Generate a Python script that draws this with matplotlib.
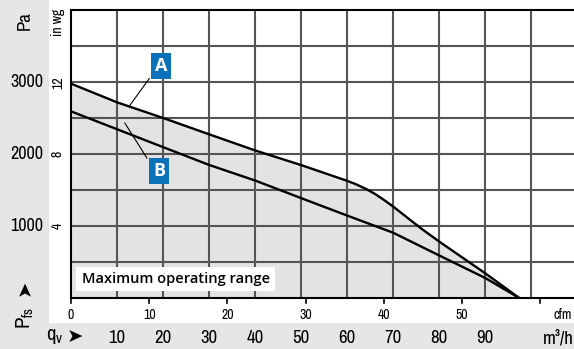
import matplotlib
matplotlib.use("Agg")
import matplotlib.pyplot as plt
from matplotlib.patches import Rectangle
import matplotlib.transforms as mtransforms

# Fan characteristic curves: flow in m³/h, static pressure in Pa
flow_a = [0, 10, 20, 30, 40, 50, 60, 62, 64, 66, 68, 70, 76, 80, 90, 97.4]
pa_a = [2972, 2713, 2496, 2270, 2046, 1843, 1625, 1575, 1515, 1445, 1360, 1268, 968, 783, 343, 0]

flow_b = [0, 10, 20, 30, 40, 50, 60, 70, 80, 90, 97.4]
pa_b = [2588, 2340, 2092, 1845, 1629, 1385, 1143, 905, 590, 278, 0]

pa_ticks = [1000, 2000, 3000]
inwg_ticks = [4, 8, 12]
m3h_ticks = [10, 20, 30, 40, 50, 60, 70, 80, 90]
cfm_ticks = [0, 10, 20, 30, 40, 50, 60]
cfm_labels = ["0", "10", "20", "30", "40", "50", ""]

PA_PER_INWG = 249.089
M3H_PER_CFM = 1.699

NARROW = ["Archivo Narrow", "DejaVu Sans"]
BAND = "#e6e6e6"
FILL = "#e3e3e3"
GRID = "#555555"
BLUE = "#0b72b9"

fig = plt.figure(figsize=(5.74, 3.49), dpi=100)
W, H = 574, 349

# Grey label bands (left and bottom), kept behind the axes
fig.patches.append(Rectangle((0, 0), 49 / W, 1, transform=fig.transFigure,
                             facecolor=BAND, edgecolor="none", zorder=-5))
fig.patches.append(Rectangle((0, 0), 1, 26 / H, transform=fig.transFigure,
                             facecolor=BAND, edgecolor="none", zorder=-5))

x0, x1 = 71 / W, 1.0
y0, y1 = 1 - 298 / H, 1 - 9.5 / H
ax = fig.add_axes([x0, y0, x1 - x0, y1 - y0])
ax.set_facecolor("white")
ax.set_xlim(0, 109.3)
ax.set_ylim(0, 4000)

# Grid
for v in range(10, 110, 10):
    ax.axvline(v, color=GRID, lw=1.5, zorder=1)
for p in range(500, 4000, 500):
    ax.axhline(p, color=GRID, lw=1.5, zorder=1)

# Operating range shading under the upper curve
ax.fill_between(flow_a, pa_a, 0, color=FILL, zorder=0.5, lw=0)

ax.plot(flow_a, pa_a, color="black", lw=1.7, zorder=3, solid_joinstyle="round")
ax.plot(flow_b, pa_b, color="black", lw=1.7, zorder=3, solid_joinstyle="round")

# Spines
ax.spines["right"].set_visible(False)
for s in ["left", "bottom", "top"]:
    ax.spines[s].set_color("black")
    ax.spines[s].set_linewidth(1.5)
ax.set_xticks([])
ax.set_yticks([])

# Curve labels with leader lines
ax.plot([17.0, 12.8], [3042, 2671], color="black", lw=0.8, zorder=4)
ax.plot([16.5, 11.7], [1940, 2426], color="black", lw=0.8, zorder=4)
for txt, (cx, cy) in [("A", (19.6, 3218)), ("B", (19.2, 1767))]:
    ax.text(cx, cy, txt, ha="center", va="center", color="white",
            fontsize=13, fontweight="bold", family="Open Sans", zorder=5,
            bbox=dict(boxstyle="square,pad=0.22", facecolor=BLUE, edgecolor="none"))

# Caption box
ax.text(2.3, 262, "Maximum operating range", ha="left", va="center",
        fontsize=10.5, fontweight="semibold", family="Open Sans", zorder=5,
        bbox=dict(boxstyle="square,pad=0.35", facecolor="white", edgecolor="none"))

# cfm scale along the bottom edge
for c, lab in zip(cfm_ticks, cfm_labels):
    q = c * M3H_PER_CFM
    ax.plot([q, q], [0, -75], color="black", lw=1.2, clip_on=False, zorder=4)
    if lab:
        ax.text(q, -140, lab, ha="center", va="top", fontsize=10,
                family=NARROW, clip_on=False)
ax.text(108.8, -140, "cfm", ha="right", va="top", fontsize=10, family=NARROW,
        clip_on=False)

# m³/h scale in the bottom band
for q in m3h_ticks:
    ax.text(q, -560, str(q), ha="center", va="center", fontsize=13.5,
            family=NARROW, clip_on=False)
ax.text(109.2, -560, "m³/h", ha="right", va="center", fontsize=13.5,
        family=NARROW, clip_on=False)

# Pa scale in the left band
tr_y = mtransforms.blended_transform_factory(fig.transFigure, ax.transData)
for p in pa_ticks:
    fig.text(27 / W, p, str(p), ha="center", va="center", fontsize=13,
             family=NARROW, transform=tr_y)
for w in inwg_ticks:
    fig.text(58 / W, w * PA_PER_INWG, str(w), ha="center", va="center",
             fontsize=10, rotation=90, family=NARROW, transform=tr_y)

fig.text(25 / W, 1 - 21 / H, "Pa", ha="center", va="center", fontsize=13.5,
         rotation=90, family=NARROW)
fig.text(58 / W, 1 - 22 / H, "in wg", ha="center", va="center", fontsize=10,
         rotation=90, family=NARROW)

# Axis names with arrows
fig.text(25 / W, 1 - 288 / H, "➤", ha="center", va="center", fontsize=14,
         rotation=90, family="DejaVu Sans")
fig.text(25 / W, 1 - 318 / H, r"P$_{\mathregular{fs}}$", ha="center", va="center",
         fontsize=15, rotation=90, family=NARROW)
fig.text(55 / W, 1 - 337 / H, r"q$_{\mathregular{v}}$", ha="center", va="center",
         fontsize=15, family=NARROW)
fig.text(75 / W, 1 - 337 / H, "➤", ha="center", va="center", fontsize=14,
         family="DejaVu Sans")

fig.savefig("out.png", dpi=100)
